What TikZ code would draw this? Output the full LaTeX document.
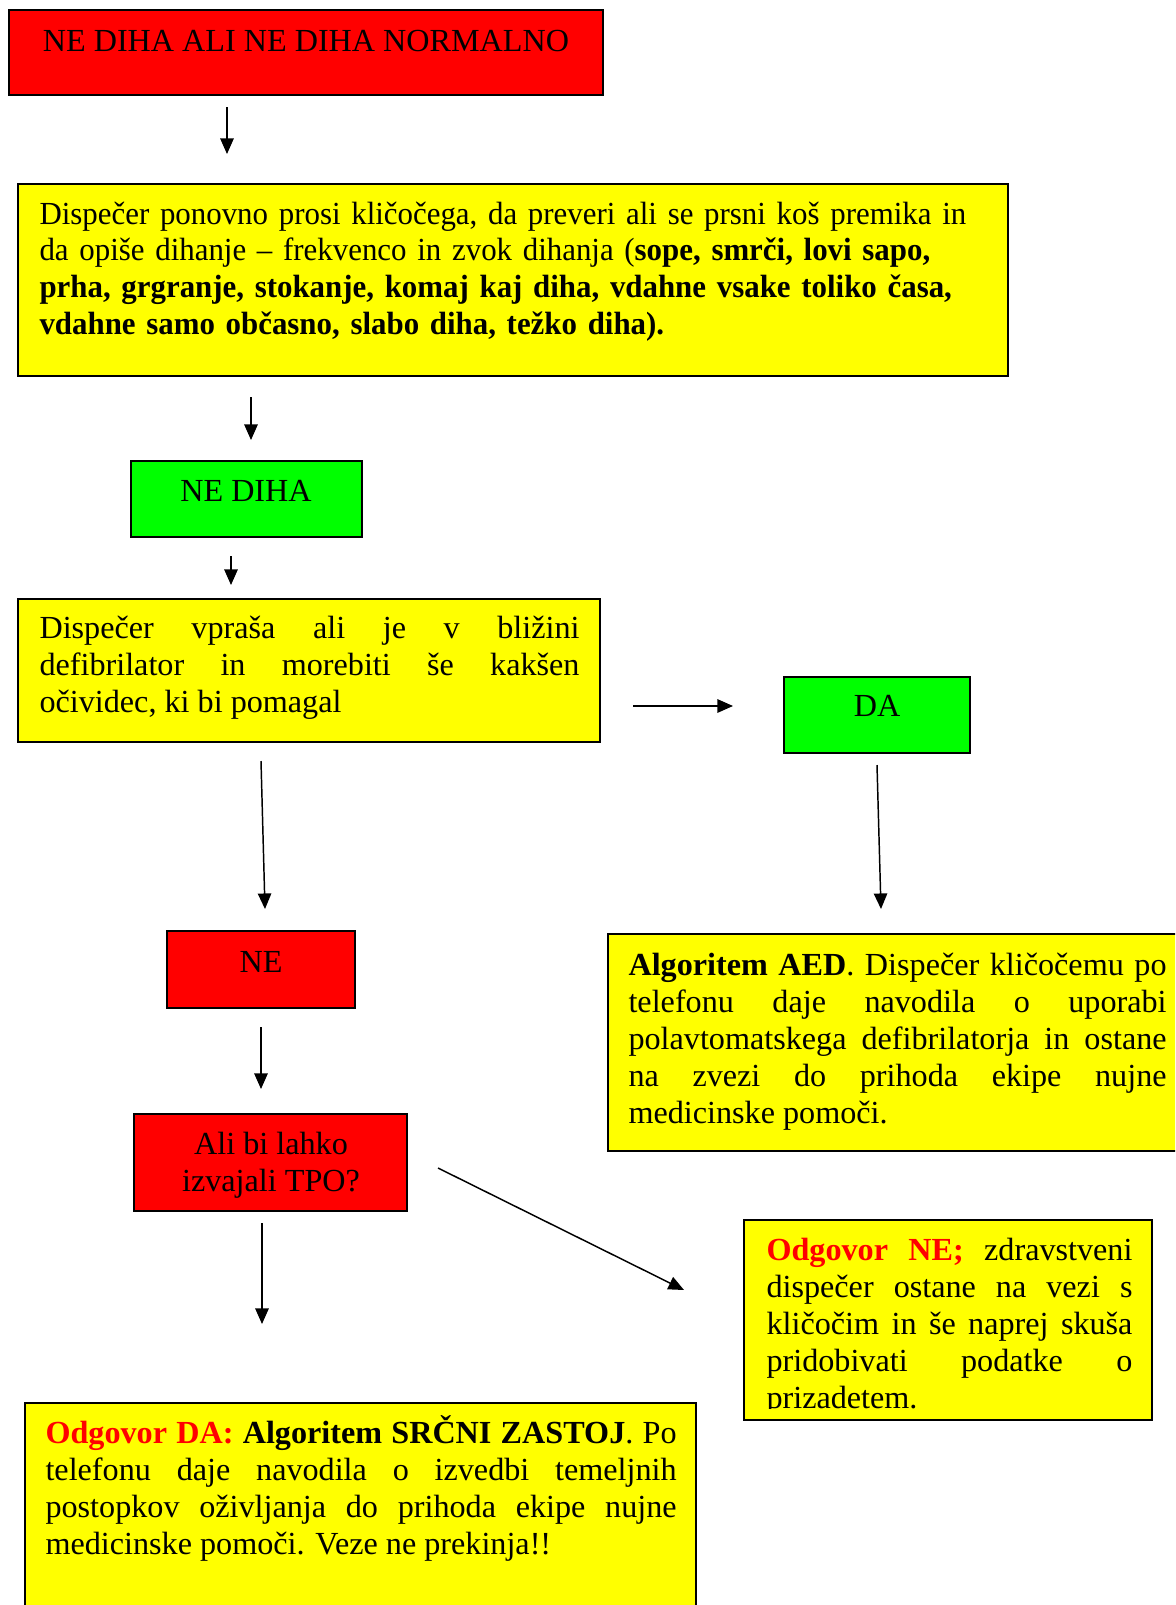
\documentclass[tikz,border=0pt]{standalone}
\usepackage{fontspec}
\setmainfont{Liberation Serif}
\newfontfamily\narrowserif[FakeStretch=0.96]{Liberation Serif}
\usetikzlibrary{arrows.meta,fit}
\definecolor{boxred}{HTML}{FF0000}
\definecolor{boxyellow}{HTML}{FFFF00}
\definecolor{boxgreen}{HTML}{00FF00}
\tikzset{
  box/.style={draw=black, line width=0.75pt, inner sep=0pt},
  redbox/.style={box, fill=boxred},
  yellowbox/.style={box, fill=boxyellow},
  greenbox/.style={box, fill=boxgreen},
  txt/.style={inner sep=0pt, font=\fontsize{12}{13.8}\selectfont},
  para/.style={txt, anchor=base west, align=justify, text width=#1},
  arrow/.style={-{Triangle[length=5.8pt,width=5pt]}, line width=0.55pt, draw=black}
}

\begin{document}
\begin{tikzpicture}[x=0.373pt,y=-0.373pt]
    \useasboundingbox (0,0) rectangle (1175,1605);
    \clip (0,0) rectangle (1175,1605);

    % Top: not breathing
    \node[redbox, fit={(9,10) (603,95)}] (title) {};
    \node[txt, anchor=base] (titletxt) at (306,51) {NE DIHA ALI NE DIHA NORMALNO};

    % Dispatcher asks again
    \node[yellowbox, fit={(18,184) (1008,376)}] (ask) {};
    \node[txt, anchor=base west, align=left, text width=370pt] (asktxt) at (39,224)
      {\narrowserif Dispečer ponovno prosi kličočega, da preveri ali se prsni koš premika in\\
       da opiše dihanje – frekvenco in zvok dihanja (\textbf{sope, smrči, lovi sapo,}\\
       \textbf{prha, grgranje, stokanje, komaj kaj diha, vdahne vsake toliko časa,}\\
       \textbf{vdahne samo občasno, slabo diha, težko diha).}};

    \node[greenbox, fit={(131,461) (362,537)}] (nodiha) {};
    \node[txt, anchor=base] (nodihatxt) at (246,501) {NE DIHA};

    % Defibrillator question
    \node[yellowbox, fit={(18,599) (600,742)}] (defib) {};
    \node[para=201.4pt] (defibtxt) at (39,638)
      {Dispečer vpraša ali je v bližini\linebreak
       defibrilator in morebiti še kakšen\linebreak
       očividec, ki bi pomagal};

    \node[greenbox, fit={(784,677) (970,753)}] (da) {};
    \node[txt, anchor=base] (datxt) at (877,716) {DA};

    \node[redbox, fit={(167,931) (355,1008)}] (ne) {};
    \node[txt, anchor=base] (netxt) at (261,972) {NE};

    \node[yellowbox, fit={(608,934) (1190,1151)}] (aed) {};
    \node[para=200.7pt] (aedtxt) at (628,975)
      {\textbf{Algoritem AED}. Dispečer kličočemu po\linebreak
       telefonu daje navodila o uporabi\linebreak
       polavtomatskega defibrilatorja in ostane\linebreak
       na zvezi do prihoda ekipe nujne\linebreak
       medicinske pomoči.};

    % CPR question
    \node[redbox, fit={(134,1114) (407,1211)}] (tpo) {};
    \node[txt, anchor=base, align=center] (tpotxt) at (271,1191)
      {Ali bi lahko\\izvajali TPO?};

    \node[yellowbox, fit={(744,1220) (1152,1420)}] (odgne) {};
    \begin{scope}
      \clip (744,1220) rectangle (1152,1408);
      \node[para=136.5pt] (odgnetxt) at (766,1260)
        {\textcolor{boxred}{\textbf{Odgovor NE;}} zdravstveni\linebreak
         dispečer ostane na vezi s\linebreak
         kličočim in še naprej skuša\linebreak
         pridobivati podatke o\linebreak
         prizadetem.};
    \end{scope}

    \node[yellowbox, fit={(25,1403) (696,1620)}] (odgda) {};
    \node[para=235.4pt] (odgdatxt) at (45,1443)
      {\textcolor{boxred}{\textbf{Odgovor DA:}} \textbf{Algoritem SRČNI ZASTOJ}. Po\linebreak
       telefonu daje navodila o izvedbi temeljnih\linebreak
       postopkov oživljanja do prihoda ekipe nujne\linebreak
       medicinske pomoči. Veze ne prekinja!!};

    % Arrows
    \coordinate (a1s) at (227,107);  \coordinate (a1e) at (227,154);
    \coordinate (a2s) at (251,397);  \coordinate (a2e) at (251,440);
    \coordinate (a3s) at (231,556);  \coordinate (a3e) at (231,585);
    \coordinate (a4s) at (633,706);  \coordinate (a4e) at (733,706);
    \coordinate (a5s) at (877,765);  \coordinate (a5e) at (881,909);
    \coordinate (a6s) at (261,761);  \coordinate (a6e) at (265,909);
    \coordinate (a7s) at (261,1027); \coordinate (a7e) at (261,1089);
    \coordinate (a8s) at (262,1223); \coordinate (a8e) at (262,1324);
    \coordinate (a9s) at (438,1168); \coordinate (a9e) at (684,1290);
    \foreach \i in {1,...,9}
      \draw[arrow] (a\i s) -- (a\i e);
  \end{tikzpicture}
\end{document}
